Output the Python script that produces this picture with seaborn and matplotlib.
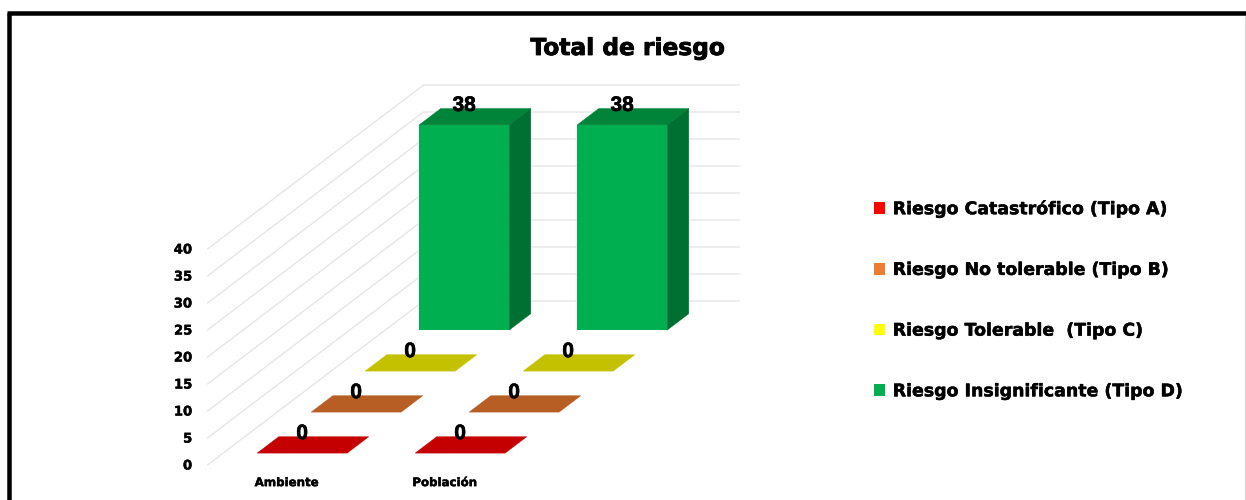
import pandas as pd
import seaborn as sns
import matplotlib.pyplot as plt
import matplotlib.patheffects as pe
from matplotlib.lines import Line2D
from matplotlib.patches import Polygon
from matplotlib.transforms import Affine2D, IdentityTransform

categorias = ['Ambiente', 'Población']
series = ['Riesgo Catastrófico (Tipo A)', 'Riesgo No tolerable (Tipo B)',
          'Riesgo Tolerable  (Tipo C)', 'Riesgo Insignificante (Tipo D)']
tipo_a = [0, 0]
tipo_b = [0, 0]
tipo_c = [0, 0]
tipo_d = [38, 38]
ticks = [0, 5, 10, 15, 20, 25, 30, 35, 40]

colores = ['#FF0000', '#ED7D31', '#FFFF00', '#00B050']
colores_top = ['#C40000', '#B65E24', '#C4C200', '#008439']
colores_lado = ['#A00000', '#9C5020', '#A0A000', '#006F32']

W, H = 1246, 500
# desplazamiento en pixeles por cada serie (profundidad del grafico 3D)
DX, DY = 54, 41
D_FRENTE, D_FONDO = 0.29, 0.69

df = pd.DataFrame({
    'categoria': categorias * 4,
    'serie': [s for s in series for _ in categorias],
    'valor': tipo_a + tipo_b + tipo_c + tipo_d,
})

sns.set_theme(style='white')
plt.rcParams['font.family'] = ['DejaVu Sans']

fig = plt.figure(figsize=(W / 100, H / 100), dpi=100, facecolor='white')
ax = fig.add_axes([207.5 / W, 35 / H, 316 / W, 216 / H])
ax.patch.set_alpha(0)

sns.barplot(data=df, x='categoria', y='valor', hue='serie', hue_order=series,
            order=categorias, palette=colores, dodge=False, width=0.57,
            saturation=1, linewidth=0, ax=ax)
ax.set_xlim(-0.5, 1.5)
ax.set_ylim(0, 40)
ax.set_yticks(ticks)
ax.set_xlabel('')
ax.set_ylabel('')
sns.despine(ax=ax, left=True, bottom=True)
ax.tick_params(axis='y', length=0, pad=11)
ax.tick_params(axis='x', length=0, pad=8)
for lab in ax.get_xticklabels() + ax.get_yticklabels():
    lab.set_fontweight('bold')
    lab.set_color('black')
    lab.set_path_effects([pe.withStroke(linewidth=0.3, foreground='black')])
for lab in ax.get_yticklabels():
    lab.set_fontsize(9.5)
    lab.set_verticalalignment('center')
    lab.set_transform(lab.get_transform() + Affine2D().translate(0, -1))
for lab in ax.get_xticklabels():
    lab.set_fontsize(8.5)


def proyectar(x, v, d):
    px, py = ax.transData.transform((x, v))
    return px + DX * d, py + DY * d


def poligono(puntos, color, z):
    ax.add_patch(Polygon(puntos, closed=True, facecolor=color, edgecolor=color,
                         linewidth=0.3, transform=IdentityTransform(),
                         clip_on=False, zorder=z))


# lineas de la pared lateral y del fondo
for v in ticks:
    puntos = [proyectar(-0.5, v, 0), proyectar(-0.5, v, 4), proyectar(1.5, v, 4)]
    ax.add_line(Line2D([p[0] for p in puntos], [p[1] for p in puntos],
                       color='#E6E6E6', lw=1.0, transform=IdentityTransform(),
                       clip_on=False, zorder=0.5))

for k, cont in enumerate(ax.containers):
    d0, d1 = k + D_FRENTE, k + D_FONDO
    z = 5 - k
    for bar in cont:
        x0, x1 = bar.get_x(), bar.get_x() + bar.get_width()
        v = bar.get_height()
        bar.set_transform(ax.transData + Affine2D().translate(DX * d0, DY * d0))
        bar.set_clip_on(False)
        bar.set_zorder(z)
        poligono([proyectar(x0, v, d0), proyectar(x1, v, d0),
                  proyectar(x1, v, d1), proyectar(x0, v, d1)], colores_top[k], z)
        if v > 0:
            poligono([proyectar(x1, 0, d0), proyectar(x1, v, d0),
                      proyectar(x1, v, d1), proyectar(x1, 0, d1)], colores_lado[k], z)
        tx, ty = proyectar((x0 + x1) / 2, v, d0)
        ax.text(tx, ty + 19.5, f'{v:.0f}', transform=IdentityTransform(), ha='center',
                va='center', fontsize=15, fontweight='bold', color='black',
                family='Liberation Sans', zorder=10, clip_on=False,
                path_effects=[pe.withStroke(linewidth=0.5, foreground='black')])

sns.move_legend(ax, 'center left', bbox_to_anchor=(858 / W, 1 - 300 / H),
                bbox_transform=fig.transFigure, title=None, frameon=False,
                labelspacing=2.46, handlelength=0.65, handleheight=0.65,
                handletextpad=0.45, fontsize=12.5)
for t in ax.get_legend().get_texts():
    t.set_fontweight('bold')
    t.set_color('black')
    t.set_path_effects([pe.withStroke(linewidth=0.35, foreground='black')])

fig.text(628 / W, 1 - 48.5 / H, 'Total de riesgo', ha='center', va='center',
         fontsize=16.8, fontweight='bold', color='black',
         path_effects=[pe.withStroke(linewidth=0.6, foreground='black')])

# marco negro de la imagen
marco = [([8.5, 8.5], [H, 13], 'black', 4.5 * 0.72),
         ([6.5, W], [13, 13], 'black', 4.5 * 0.72),
         ([W - 1.5, W - 1.5], [16, H], '#DDDDDD', 1.0)]
for xs, ys, c, lw in marco:
    fig.add_artist(Line2D([x / W for x in xs], [1 - y / H for y in ys], color=c,
                          lw=lw, solid_capstyle='butt', transform=fig.transFigure))

fig.savefig('out.png', dpi=100)
